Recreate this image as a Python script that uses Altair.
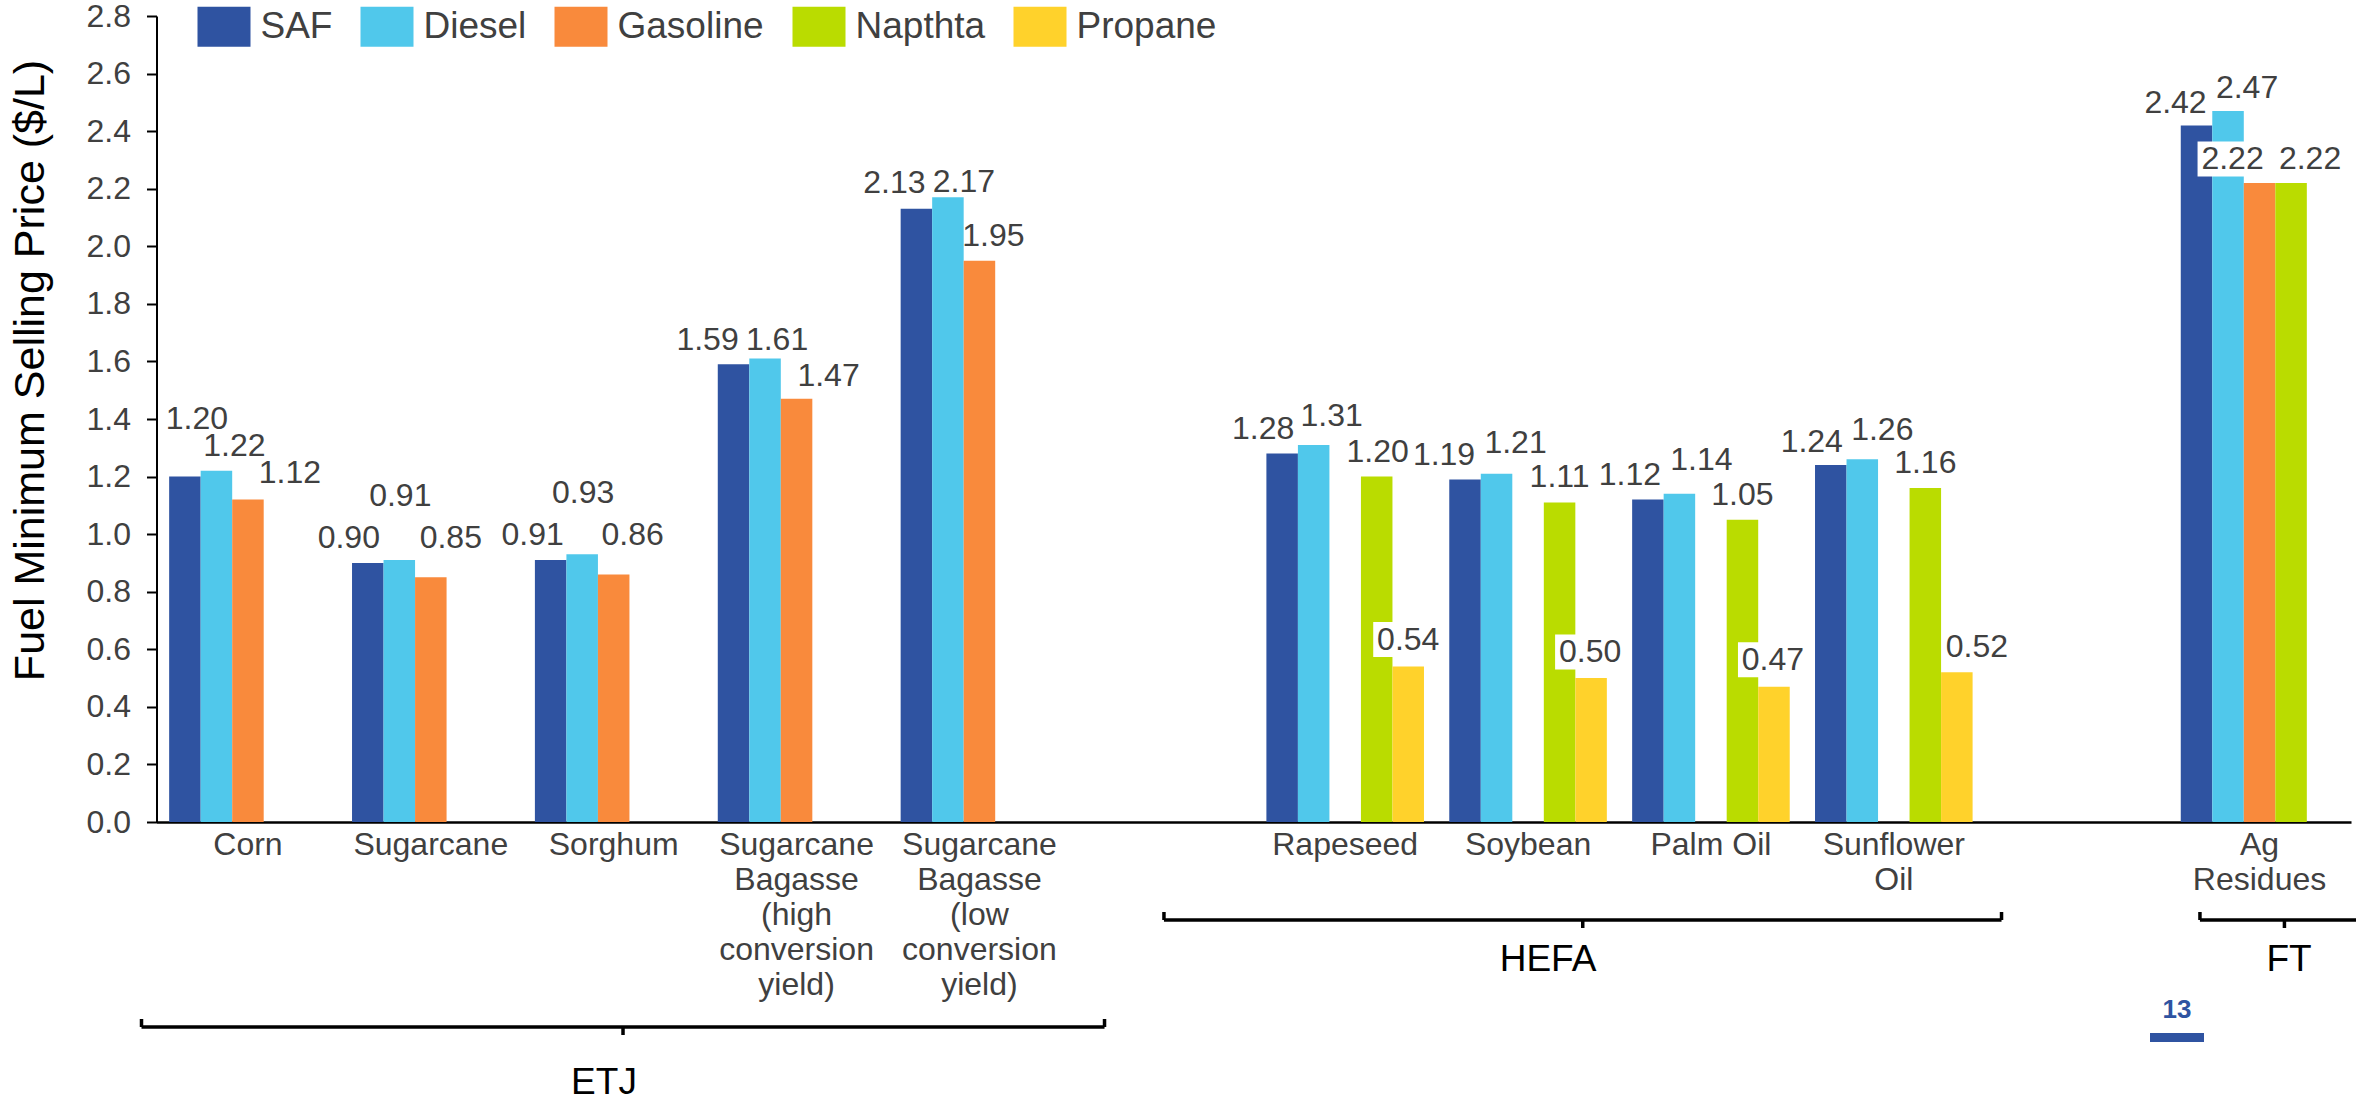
import altair as alt
import pandas as pd

FONT = "Liberation Sans, Arial, sans-serif"
GREY = "#404040"

# ---- data -------------------------------------------------------------
series = ["SAF", "Diesel", "Gasoline", "Napthta", "Propane"]
colors = ["#2F53A1", "#50C8EB", "#F98A3C", "#BADC00", "#FFD22B"]

categories = [
    "Corn",
    "Sugarcane",
    "Sorghum",
    "Sugarcane\nBagasse\n(high\nconversion\nyield)",
    "Sugarcane\nBagasse\n(low\nconversion\nyield)",
    " ",
    "Rapeseed",
    "Soybean",
    "Palm Oil",
    "Sunflower\nOil",
    "  ",
    "Ag\nResidues",
]

saf      = [1.20, 0.90, 0.91, 1.59, 2.13, None, 1.28, 1.19, 1.12, 1.24, None, 2.42]
diesel   = [1.22, 0.91, 0.93, 1.61, 2.17, None, 1.31, 1.21, 1.14, 1.26, None, 2.47]
gasoline = [1.12, 0.85, 0.86, 1.47, 1.95, None, None, None, None, None, None, 2.22]
napthta  = [None, None, None, None, None, None, 1.20, 1.11, 1.05, 1.16, None, 2.22]
propane  = [None, None, None, None, None, None, 0.54, 0.50, 0.47, 0.52, None, None]

y_ticks = [0.0, 0.2, 0.4, 0.6, 0.8, 1.0, 1.2, 1.4, 1.6, 1.8, 2.0, 2.2, 2.4, 2.6, 2.8]

# pathway groups drawn under the category axis (positions in category units)
groups = [
    # name, bracket start, bracket end, label x, bracket y (px), label y (px)
    ("ETJ", -0.082, 5.184, 2.447, 1011, 1067),
    ("HEFA", 5.509, 10.089, 7.609, 904, 944),
    ("FT", 11.174, 12.098, 11.661, 904, 944),
]

# value-label nudges (dx, dy in px from the bar top); default sits centred above
label_nudge = {
    (0, "SAF"): (12, -58), (0, "Diesel"): (18, -25), (0, "Gasoline"): (42, -27),
    (1, "SAF"): (-19, -25), (1, "Diesel"): (1, -64), (1, "Gasoline"): (20, -39),
    (2, "SAF"): (-18, -25), (2, "Diesel"): (1, -61), (2, "Gasoline"): (19, -39),
    (3, "SAF"): (-26, -24), (3, "Diesel"): (12, -19), (3, "Gasoline"): (32, -23),
    (4, "SAF"): (-22, -26), (4, "Diesel"): (16, -15), (4, "Gasoline"): (14, -25),
    (6, "SAF"): (-19, -25), (6, "Diesel"): (18, -29), (6, "Napthta"): (1, -25), (6, "Propane"): (0, -27),
    (7, "SAF"): (-21, -24), (7, "Diesel"): (19, -31), (7, "Napthta"): (0, -25), (7, "Propane"): (-1, -26),
    (8, "SAF"): (-18, -25), (8, "Diesel"): (22, -34), (8, "Napthta"): (0, -25), (8, "Propane"): (-1, -27),
    (9, "SAF"): (-19, -23), (9, "Diesel"): (20, -29), (9, "Napthta"): (0, -25), (9, "Propane"): (20, -25),
    (11, "SAF"): (-21, -22), (11, "Diesel"): (19, -23), (11, "Gasoline"): (-27, -24), (11, "Napthta"): (19, -24),
}
# labels sitting over a neighbouring bar get a white backing box
boxed = {(6, "Propane"), (7, "Propane"), (8, "Propane"), (9, "Propane"), (11, "Gasoline")}

rows = []
for s, vals in zip(series, [saf, diesel, gasoline, napthta, propane]):
    for i, v in enumerate(vals):
        if v is not None:
            rows.append({"cat": categories[i], "idx": i, "series": s, "value": v})
df = pd.DataFrame(rows)

# ---- shared encodings --------------------------------------------------
x_enc = alt.X(
    "cat:N",
    scale=alt.Scale(domain=categories, paddingInner=0.1383, paddingOuter=0.0692),
    axis=alt.Axis(
        title=None, labelAngle=0, labelFont=FONT, labelFontSize=32, labelColor=GREY,
        labelLineHeight=35, labelPadding=7, ticks=False, domainColor="black",
        domainWidth=2.5, labelExpr="split(datum.value, '\\n')", labelLimit=0,
        labelBaseline="top", labelAlign="center", grid=False,
    ),
)
xoff = alt.XOffset("series:N", scale=alt.Scale(domain=series, paddingInner=0, paddingOuter=0))
y_enc = alt.Y(
    "value:Q",
    scale=alt.Scale(domain=[0, 2.8], nice=False, zero=True),
    axis=alt.Axis(
        title="Fuel Minimum Selling Price ($/L)", values=y_ticks, format=".1f",
        labelFont=FONT, labelFontSize=32, labelColor=GREY, labelPadding=16,
        tickSize=10, tickWidth=2, tickColor="black", domainColor="black",
        domainWidth=2, grid=False, titleFont=FONT, titleFontSize=43,
        titleColor="black", titleFontWeight="normal", titleX=-126, titleY=354,
        titleAngle=270, titleAlign="center", titleBaseline="middle",
    ),
)

bars = alt.Chart(df).mark_bar().encode(
    x=x_enc,
    xOffset=xoff,
    y=y_enc,
    color=alt.Color(
        "series:N",
        scale=alt.Scale(domain=series, range=colors),
        legend=alt.Legend(
            title=None, orient="none", legendX=41, legendY=-16, direction="horizontal",
            columns=5, symbolType="M-1,-0.755H1V0.755H-1Z", symbolSize=2809,
            symbolStrokeWidth=0, symbolOpacity=1, labelFont=FONT, labelFontSize=37,
            labelColor=GREY, labelOffset=10, columnPadding=28, padding=0,
        ),
    ),
)

boxes, labels = [], []
for r in rows:
    key = (r["idx"], r["series"])
    dx, dy = label_nudge.get(key, (0, -25))
    one = alt.Chart(pd.DataFrame([r]))
    if key in boxed:
        path = f"M{dx-35},{dy-17.5}H{dx+31}V{dy+17.5}H{dx-35}Z"
        boxes.append(
            one.mark_point(shape=path, size=4, filled=True, color="white", opacity=1, strokeWidth=0)
            .encode(x=x_enc, xOffset=xoff, y=y_enc)
        )
    labels.append(
        one.mark_text(dx=dx, dy=dy, font=FONT, fontSize=32, color=GREY, baseline="middle", align="center")
        .encode(x=x_enc, xOffset=xoff, y=y_enc, text=alt.Text("value:Q", format=".2f"))
    )

main = alt.layer(bars, *boxes, *labels)

# ---- pathway brackets and labels ---------------------------------------
gx = alt.Scale(domain=[0, 12])
BRACKET_W = 3.5
annot_layers = []
for name, x0, x1, lx, by, ly in groups:
    g = pd.DataFrame([{"x0": x0, "x1": x1, "mid": (x0 + x1) / 2, "lx": lx, "name": name}])
    c = alt.Chart(g)
    annot_layers += [
        c.mark_rule(color="black", strokeWidth=BRACKET_W).encode(
            x=alt.X("x0:Q", scale=gx, axis=None), x2="x1:Q", y=alt.value(by)),
        c.mark_rule(color="black", strokeWidth=BRACKET_W).encode(
            x=alt.X("x0:Q", scale=gx, axis=None), y=alt.value(by - 8), y2=alt.value(by)),
        c.mark_rule(color="black", strokeWidth=BRACKET_W).encode(
            x=alt.X("x1:Q", scale=gx, axis=None), y=alt.value(by - 8), y2=alt.value(by)),
        c.mark_rule(color="black", strokeWidth=BRACKET_W).encode(
            x=alt.X("mid:Q", scale=gx, axis=None), y=alt.value(by), y2=alt.value(by + 8)),
        c.mark_text(font=FONT, fontSize=37, color="black", baseline="middle", align="center").encode(
            x=alt.X("lx:Q", scale=gx, axis=None), y=alt.value(ly), text="name:N"),
    ]

page = alt.Chart(pd.DataFrame([{"n": "13"}]))
annot_layers += [
    page.mark_text(font=FONT, fontSize=26, fontWeight="bold", color="#2F53A1",
                   baseline="middle", align="center").encode(
        x=alt.value(2020.5), y=alt.value(994), text="n:N"),
    page.mark_rule(color="#2F53A1", strokeWidth=9).encode(
        x=alt.value(1993.5), x2=alt.value(2047.5), y=alt.value(1021.5)),
]
annot = alt.layer(*annot_layers)

chart = (
    alt.layer(main, annot)
    .resolve_scale(x="independent")
    .properties(
        width=2194.5,
        height=806,
        autosize=alt.AutoSizeParams(type="none"),
        padding={"left": 156.5, "top": 16, "right": 5, "bottom": 280},
        background="white",
    )
    .configure_view(stroke=None)
)

chart.save("out.html", embed_options={"renderer": "svg", "actions": False})
